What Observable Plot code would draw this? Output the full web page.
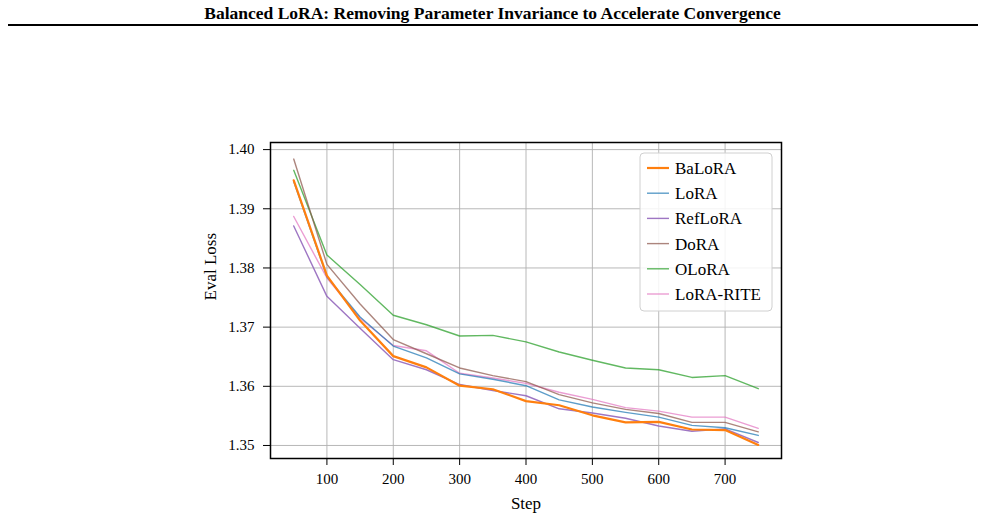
<!DOCTYPE html>
<html>
<head>
<meta charset="utf-8">
<script src="https://cdn.jsdelivr.net/npm/d3@7"></script>
<script src="https://cdn.jsdelivr.net/npm/@observablehq/plot@0.6"></script>
<style>
  html, body { margin: 0; padding: 0; background: #fff; }
  #wrap { position: relative; width: 985px; height: 520px; font-family: "Liberation Serif", "Times New Roman", serif; }
  #header { position: absolute; left: 0; top: 3px; width: 985px; text-align: center; font-weight: bold; font-size: 17.5px; color: #000; }
  #rule { position: absolute; left: 8px; top: 24px; width: 970px; height: 2px; background: #000; }
  #chart { position: absolute; left: 0; top: 0; }
</style>
</head>
<body>
<div id="wrap">
  <div id="chart"></div>
  <div id="header">Balanced LoRA: Removing Parameter Invariance to Accelerate Convergence</div>
  <div id="rule"></div>
</div>
<script>
// Evaluation checkpoints
const steps = [50, 100, 150, 200, 250, 300, 350, 400, 450, 500, 550, 600, 650, 700, 750];

// Eval loss per method at each checkpoint
const baLoRA   = [1.3948, 1.3787, 1.3711, 1.3651, 1.3632, 1.3601, 1.3595, 1.3575, 1.3568, 1.3551, 1.3539, 1.3540, 1.3527, 1.3526, 1.3501];
const loRA     = [1.3946, 1.3785, 1.3717, 1.3668, 1.3648, 1.3621, 1.3612, 1.3601, 1.3577, 1.3565, 1.3556, 1.3548, 1.3534, 1.3530, 1.3517];
const refLoRA  = [1.3871, 1.3752, 1.3698, 1.3645, 1.3628, 1.3603, 1.3593, 1.3584, 1.3562, 1.3555, 1.3546, 1.3533, 1.3524, 1.3528, 1.3505];
const doRA     = [1.3984, 1.3806, 1.3739, 1.3679, 1.3655, 1.3631, 1.3618, 1.3608, 1.3586, 1.3572, 1.3561, 1.3554, 1.3539, 1.3539, 1.3523];
const oLoRA    = [1.3965, 1.3822, 1.3772, 1.3720, 1.3704, 1.3685, 1.3686, 1.3675, 1.3658, 1.3644, 1.3631, 1.3628, 1.3615, 1.3618, 1.3596];
const loRARite = [1.3887, 1.3783, 1.3715, 1.3669, 1.3660, 1.3622, 1.3614, 1.3605, 1.3590, 1.3578, 1.3564, 1.3558, 1.3548, 1.3548, 1.3529];

const methods = ["BaLoRA", "LoRA", "RefLoRA", "DoRA", "OLoRA", "LoRA-RITE"];
const seriesValues = [baLoRA, loRA, refLoRA, doRA, oLoRA, loRARite];
const colors = ["#ff7f0e", "#1f77b4", "#9467bd", "#8c564b", "#2ca02c", "#e377c2"];
const opacities = [1, 0.72, 0.9, 0.72, 0.75, 0.72];

const xTicks = [100, 200, 300, 400, 500, 600, 700];
const yTicks = [1.35, 1.36, 1.37, 1.38, 1.39, 1.40];

// Long-format rows for the line marks
const rows = [];
methods.forEach((m, i) => {
  steps.forEach((s, j) => rows.push({method: m, step: s, loss: seriesValues[i][j]}));
});

const serif = "Liberation Serif, Times New Roman, serif";

const marks = [
  Plot.ruleX(xTicks, {stroke: "#b0b0b0", strokeWidth: 0.9}),
  Plot.ruleY(yTicks, {stroke: "#b0b0b0", strokeWidth: 0.9}),
];
// Draw back to front so BaLoRA sits on top
[...methods].reverse().forEach((m) => {
  const i = methods.indexOf(m);
  const main = m === "BaLoRA";
  marks.push(Plot.line(rows.filter(d => d.method === m), {
    x: "step", y: "loss",
    stroke: colors[i],
    strokeWidth: main ? 2.2 : 1.4,
    strokeOpacity: opacities[i]
  }));
});
marks.push(
  Plot.frame({stroke: "#000", strokeWidth: 1.5}),
  Plot.axisX(xTicks, {tickSize: 7, tickPadding: 8, label: null, fontSize: 15}),
  Plot.axisY(yTicks, {tickSize: 7, tickPadding: 9, label: null, fontSize: 15, tickFormat: d3.format(".2f")}),
  Plot.text(["Step"], {frameAnchor: "bottom", dy: 50, fontSize: 17}),
  Plot.text(["Eval Loss"], {frameAnchor: "left", dx: -60, rotate: -90, fontSize: 17})
);

const chart = Plot.plot({
  width: 985,
  height: 520,
  marginLeft: 270,
  marginRight: 204,
  marginTop: 142,
  marginBottom: 62,
  x: {domain: [15, 785]},
  y: {domain: [1.3478, 1.4012]},
  style: {fontFamily: serif, fontSize: "15px", color: "#000", background: "transparent"},
  marks
});
document.getElementById("chart").appendChild(chart);

// Legend panel in the upper right of the frame
const svg = d3.select(chart);
const lg = svg.append("g").attr("transform", "translate(640,153)");
lg.append("rect")
  .attr("width", 132).attr("height", 158).attr("rx", 4)
  .attr("fill", "#fff").attr("fill-opacity", 0.85)
  .attr("stroke", "#d0d0d0").attr("stroke-width", 1);
methods.forEach((m, i) => {
  const y = 15 + i * 25.2;
  lg.append("line")
    .attr("x1", 7).attr("x2", 29).attr("y1", y).attr("y2", y)
    .attr("stroke", colors[i])
    .attr("stroke-width", m === "BaLoRA" ? 2.2 : 1.4)
    .attr("stroke-opacity", opacities[i]);
  lg.append("text")
    .attr("x", 35).attr("y", y).attr("dy", "0.35em")
    .attr("text-anchor", "start")
    .attr("font-family", serif).attr("font-size", 17).attr("fill", "#000")
    .text(m);
});
</script>
</body>
</html>
